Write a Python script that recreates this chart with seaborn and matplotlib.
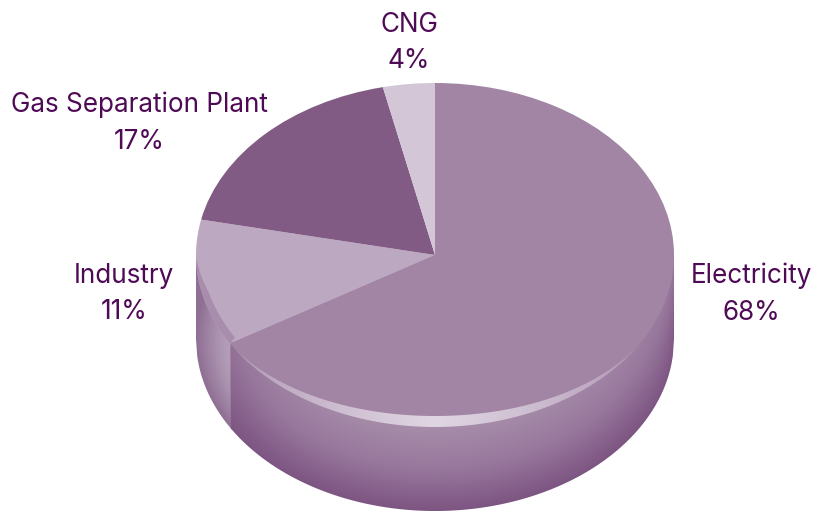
import numpy as np
import matplotlib
matplotlib.use('Agg')
import matplotlib.pyplot as plt
from matplotlib.patches import Polygon
import seaborn as sns

categories = ['Electricity', 'Industry', 'Gas Separation Plant', 'CNG']
percent_labels = ['68%', '11%', '17%', '4%']
# slice sizes as measured on the drawing, they differ a bit from the printed labels
slice_shares = [66.4, 11.9, 18.2, 3.5]
slice_colors = ['#a285a5', '#bca8c1', '#825b84', '#d3c6d6']
label_pos = [(751, 294), (124, 294), (139, 123), (409, 43)]
text_color = '#4f0a55'

W, H = 814, 511
cx, cy, rx, ry = 435, 255, 239, 172
depth = 84 / ry

sns.set_theme(style='white')
plt.rcParams['font.family'] = ['Inter', 'DejaVu Sans']

fig = plt.figure(figsize=(W / 100, H / 100), dpi=100)
ax = fig.add_axes([0, 0, 1, 1])

wedges, _ = ax.pie(slice_shares, colors=slice_colors, startangle=90, counterclock=False,
                   radius=1, wedgeprops={'linewidth': 0})
for w in wedges:
    w.set_zorder(3)
ax.set_aspect('auto')
xlim = (-cx / rx, (W - cx) / rx)
ylim = ((cy - H) / ry, cy / ry)
extent = [xlim[0], xlim[1], ylim[0], ylim[1]]

# side wall, shaded from the rim down to the lower outline
X, Y = np.meshgrid(np.linspace(xlim[0], xlim[1], W * 2), np.linspace(ylim[1], ylim[0], H * 2))
s = np.sqrt(X ** 2 + (Y + depth) ** 2)
s_t = np.clip((s - 0.5) / 0.5, 0, 1)
rim_y = -np.sqrt(np.clip(1 - X ** 2, 0, 1))
v = np.clip((rim_y - Y) / depth, 0, 1)
w_s = 0.5 + 0.4 * np.clip(-X, 0, 1)
t = w_s * s_t + (1 - w_s) * v

# x where the electricity slice ends on the rim
end_angle = np.deg2rad(slice_shares[0] / sum(slice_shares) * 360)
x_div = np.sin(end_angle)
y_div = np.cos(end_angle)

arc = np.linspace(-1, 1, 400)
low = -np.sqrt(1 - arc ** 2)

wall_cmap = sns.blend_palette(['#a78daa', '#98789d', '#7d5582'], as_cmap=True)
side_cmap = sns.blend_palette(['#bca9c1', '#ab93b0', '#8f6f94'], as_cmap=True)

# side part first, the front part overlaps it a little so no gap shows
keep = arc <= x_div + 0.01
pts = np.column_stack([arc[keep], low[keep] - depth])
pts = np.vstack([[-1, 0], pts, [x_div + 0.01, 0]])
side_t = np.clip((s - 0.82) / 0.18, 0, 1)
im2 = ax.imshow(side_t, cmap=side_cmap, vmin=0, vmax=1, extent=extent, aspect='auto', zorder=1)
im2.set_clip_path(Polygon(pts, transform=ax.transData))

keep = arc >= x_div
pts = np.column_stack([arc[keep], low[keep] - depth])
pts = np.vstack([[x_div, 0], pts, [1, 0]])
im = ax.imshow(t, cmap=wall_cmap, vmin=0, vmax=1, extent=extent, aspect='auto', zorder=1.5)
im.set_clip_path(Polygon(pts, transform=ax.transData))

ax.plot([x_div, x_div], [-np.sqrt(1 - x_div ** 2) - depth, y_div],
        color='#9d82a2', lw=0.7, ls=':', zorder=2)

# light bevel along the front edge of the top face
front = np.linspace(x_div + 0.03, 0.83, 300)
thick = 11 / ry * np.clip(1 - (front / 0.85) ** 2, 0, 1)
outer = -np.sqrt(1 - front ** 2)
bevel = np.vstack([np.column_stack([front, outer]),
                   np.column_stack([front[::-1], (outer + thick)[::-1]])])
glow = np.zeros((H, W * 2, 4))
glow[..., :3] = matplotlib.colors.to_rgb('#e0d6e4')
gx, gy = np.meshgrid(np.linspace(xlim[0], xlim[1], W * 2), np.linspace(ylim[1], ylim[0], H))
glow[..., 3] = np.clip(1 - np.abs(gx) / 0.9, 0, 1) ** 0.6
im3 = ax.imshow(glow, extent=extent, aspect='auto', zorder=4)
im3.set_clip_path(Polygon(bevel, transform=ax.transData))

# darker bevel on the industry slice
edge = np.linspace(-0.999, x_div, 120)
edge_y = -np.sqrt(1 - edge ** 2)
inner = edge_y + 6 / ry * np.clip(-edge_y * 4, 0, 1)
strip = np.vstack([np.column_stack([edge, edge_y]),
                   np.column_stack([edge[::-1] + 5 / rx * np.clip(-edge_y[::-1] * 4, 0, 1), inner[::-1]])])
ax.add_patch(Polygon(strip, closed=True, facecolor='#a98dac', edgecolor='none', zorder=4))

ax.set_xlim(xlim)
ax.set_ylim(ylim)
ax.axis('off')

for name, pct, (px, py) in zip(categories, percent_labels, label_pos):
    ax.text(px / W, 1 - py / H, name + '\n' + pct, transform=ax.transAxes, ha='center', va='center',
            fontsize=18.8, color=text_color, linespacing=1.53, zorder=5)

fig.savefig('out.png', dpi=100)
